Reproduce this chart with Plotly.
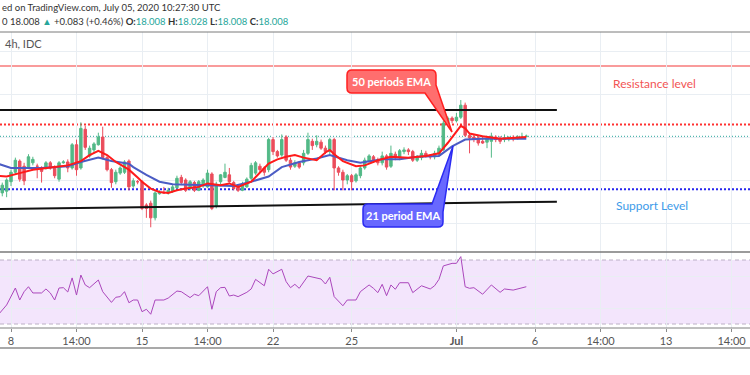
import plotly.graph_objects as go

W, H = 750, 375

# ---------------- data ----------------
idx = list(range(-2, 119))
open_ = [17.35, 17.37, 17.48, 17.59, 17.72, 17.66, 17.65, 17.70, 17.66, 17.64,
         17.64, 17.70, 17.65, 17.51, 17.70, 17.71, 17.64, 17.91, 17.64, 18.09,
         17.78, 17.85, 17.91, 18.00, 17.76, 17.62, 17.48, 17.58, 17.59, 17.72,
         17.43, 17.48, 17.48, 17.21, 17.23, 17.06, 17.34, 17.35, 17.35, 17.37,
         17.41, 17.53, 17.50, 17.40, 17.47, 17.38, 17.43, 17.42, 17.57, 17.20,
         17.48, 17.53, 17.56, 17.47, 17.43, 17.38, 17.42, 17.52, 17.58, 17.66,
         17.64, 17.62, 17.97, 17.83, 17.79, 18.00, 17.73, 17.66, 17.70, 17.70,
         17.81, 17.95, 17.91, 17.94, 17.87, 17.83, 17.97, 17.64, 17.59, 17.50,
         17.55, 17.49, 17.55, 17.64, 17.72, 17.77, 17.73, 17.70, 17.78, 17.66,
         17.80, 17.76, 17.83, 17.85, 17.83, 17.73, 17.76, 17.81, 17.78, 17.77,
         17.80, 17.85, 18.16, 18.22, 18.19, 18.23, 18.37, 18.02, 18.00, 17.99,
         17.95, 17.94, 17.95, 18.00, 17.98, 17.97, 17.98, 17.99, 17.98, 17.99,
         18.008]
high = [17.47, 17.52, 17.62, 17.76, 17.74, 17.70, 17.80, 17.77, 17.69, 17.66,
        17.72, 17.72, 17.67, 17.72, 17.73, 17.74, 17.93, 17.97, 18.17, 18.13,
        17.90, 17.94, 18.05, 18.12, 17.78, 17.64, 17.62, 17.66, 17.73, 17.74,
        17.52, 17.50, 17.50, 17.23, 17.26, 17.37, 17.38, 17.42, 17.41, 17.44,
        17.55, 17.56, 17.52, 17.50, 17.49, 17.50, 17.52, 17.62, 17.59, 17.48,
        17.57, 17.69, 17.64, 17.49, 17.45, 17.48, 17.53, 17.70, 17.72, 17.69,
        17.66, 17.99, 18.00, 17.85, 18.03, 18.02, 17.76, 17.73, 17.72, 17.85,
        18.05, 17.98, 18.02, 17.97, 17.90, 17.99, 17.99, 17.66, 17.62, 17.57,
        17.57, 17.58, 17.66, 17.76, 17.80, 17.79, 17.76, 17.83, 17.80, 17.90,
        17.83, 17.86, 17.88, 17.87, 17.85, 17.79, 17.85, 17.84, 17.80, 17.84,
        17.90, 18.19, 18.24, 18.24, 18.28, 18.43, 18.40, 18.05, 18.03, 18.01,
        18.00, 18.00, 18.05, 18.02, 18.01, 18.03, 18.01, 18.02, 18.02, 18.05,
        18.028]
low = [17.31, 17.30, 17.43, 17.57, 17.48, 17.44, 17.63, 17.67, 17.52, 17.47,
       17.62, 17.62, 17.52, 17.48, 17.69, 17.59, 17.62, 17.55, 17.62, 17.85,
       17.76, 17.81, 17.90, 17.74, 17.60, 17.41, 17.45, 17.56, 17.57, 17.38,
       17.41, 17.45, 17.15, 17.06, 16.95, 17.03, 17.33, 17.34, 17.33, 17.35,
       17.40, 17.44, 17.36, 17.38, 17.36, 17.37, 17.41, 17.41, 17.15, 17.17,
       17.45, 17.52, 17.47, 17.38, 17.36, 17.37, 17.41, 17.50, 17.56, 17.59,
       17.55, 17.59, 17.79, 17.76, 17.77, 17.71, 17.62, 17.64, 17.63, 17.67,
       17.79, 17.85, 17.88, 17.85, 17.80, 17.80, 17.38, 17.55, 17.38, 17.45,
       17.38, 17.47, 17.52, 17.62, 17.70, 17.71, 17.67, 17.67, 17.62, 17.64,
       17.73, 17.73, 17.80, 17.79, 17.71, 17.71, 17.73, 17.76, 17.74, 17.74,
       17.78, 17.84, 18.14, 18.16, 18.17, 18.21, 18.00, 17.81, 17.94, 17.90,
       17.92, 17.87, 17.76, 17.94, 17.92, 17.94, 17.95, 17.95, 17.97, 17.98,
       18.008]
close = [17.44, 17.50, 17.59, 17.73, 17.51, 17.49, 17.77, 17.74, 17.66, 17.60,
         17.70, 17.64, 17.55, 17.70, 17.71, 17.64, 17.91, 17.62, 18.10, 17.88,
         17.87, 17.92, 18.00, 17.76, 17.62, 17.47, 17.59, 17.64, 17.71, 17.42,
         17.49, 17.48, 17.17, 17.17, 17.06, 17.35, 17.36, 17.35, 17.38, 17.42,
         17.52, 17.47, 17.38, 17.48, 17.38, 17.48, 17.50, 17.58, 17.17, 17.45,
         17.56, 17.59, 17.48, 17.40, 17.38, 17.44, 17.51, 17.67, 17.70, 17.62,
         17.59, 17.97, 17.83, 17.78, 17.97, 17.73, 17.65, 17.70, 17.65, 17.81,
         17.97, 17.90, 17.95, 17.87, 17.83, 17.97, 17.64, 17.59, 17.50, 17.55,
         17.48, 17.56, 17.64, 17.73, 17.78, 17.73, 17.70, 17.78, 17.65, 17.81,
         17.76, 17.84, 17.85, 17.83, 17.73, 17.77, 17.81, 17.78, 17.77, 17.81,
         17.87, 18.16, 18.22, 18.19, 18.23, 18.37, 18.02, 17.99, 17.97, 17.93,
         17.93, 17.98, 18.01, 17.97, 17.95, 17.99, 17.99, 17.98, 18.00, 18.00,
         18.008]

ema_red_idx = [-3, -1, 2, 5, 10, 13, 16, 18, 20, 22, 24, 27, 29, 30, 32, 34, 36,
               38, 40, 43, 45, 48, 50, 52, 55, 57, 59, 61, 63, 65, 67, 70, 72,
               73, 74, 76, 79, 81, 84, 87, 91, 95, 98, 100, 102, 103, 104, 105,
               108, 112, 118]
ema_red = [17.55, 17.54, 17.58, 17.62, 17.65, 17.67, 17.72, 17.79, 17.84, 17.79,
           17.71, 17.62, 17.53, 17.48, 17.40, 17.36, 17.35, 17.38, 17.40, 17.42,
           17.46, 17.44, 17.46, 17.42, 17.48, 17.59, 17.69, 17.74, 17.77, 17.79,
           17.76, 17.73, 17.82, 17.85, 17.80, 17.72, 17.66, 17.67, 17.73, 17.77,
           17.76, 17.78, 17.81, 17.93, 18.07, 18.13, 18.10, 18.04, 18.01, 17.98,
           18.00]
ema_blue_idx = [-3, 0, 2, 7, 13, 16, 20, 23, 27, 28, 31, 34, 37, 43, 51, 55, 59,
                62, 66, 70, 73, 77, 80, 85, 89, 93, 98, 101, 104, 108, 118]
ema_blue = [17.69, 17.64, 17.64, 17.64, 17.66, 17.71, 17.76, 17.72, 17.69, 17.65,
            17.56, 17.48, 17.45, 17.44, 17.43, 17.48, 17.54, 17.65, 17.71, 17.75,
            17.79, 17.73, 17.70, 17.74, 17.74, 17.77, 17.78, 17.89, 17.97, 17.98,
            17.98]

rsi_idx = [-3, -1, 1, 2, 3, 4, 5, 7, 8, 9, 10, 11, 12, 13, 14, 15, 16, 17, 18, 20,
           21, 23, 24, 25, 26, 27, 28, 29, 30, 31, 32, 33, 35, 36, 38, 39, 41, 42,
           43, 45, 46, 47, 48, 49, 50, 51, 52, 54, 55, 56, 58, 59, 60, 62, 63, 64,
           65, 66, 68, 71, 72, 73, 74, 76, 77, 79, 80, 82, 83, 84, 85, 86, 87, 88,
           89, 91, 92, 94, 96, 97, 98, 99, 101, 102, 103, 104, 105, 106, 108, 110,
           112, 113, 115, 117, 118]
rsi = [35.5, 41.9, 52.5, 45.0, 50.2, 53.3, 49.4, 49.4, 51.9, 49.4,
       45.0, 52.5, 52.7, 50.0, 58.8, 48.1, 60.6, 54.4, 52.7, 57.5,
       50.2, 43.5, 46.7, 47.1, 50.2, 43.3, 45.0, 45.0, 37.7, 39.2,
       36.1, 45.0, 45.0, 46.2, 50.6, 50.2, 46.5, 48.6, 47.7, 53.3,
       39.2, 50.2, 52.7, 52.9, 47.5, 48.1, 47.1, 49.8, 51.9, 57.9,
       53.9, 64.2, 61.3, 64.2, 56.5, 52.7, 54.8, 52.3, 60.0, 58.1,
       55.0, 59.2, 47.1, 41.4, 45.0, 45.0, 50.2, 54.4, 52.3, 49.6,
       54.8, 47.7, 54.4, 51.7, 55.8, 55.8, 49.6, 53.9, 51.9, 53.9,
       57.9, 66.3, 67.9, 67.9, 72.1, 53.3, 52.3, 52.7, 48.6, 54.4,
       49.8, 51.9, 51.2, 52.9, 53.3]

tick_pos = [0, 15, 30, 45, 60, 78, 102, 120, 135, 150, 165]
tick_text = ["8", "14:00", "15", "14:00", "22", "25", "<b>Jul</b>", "6",
             "14:00", "13", "14:00"]

resistance_level = 18.826
red_dotted_level = 18.145
last_price = 18.008
support_level = 17.392
channel_top = [18.314, 18.314]
channel_bottom = [17.162, 17.248]
channel_x = [-3, 125]

# ---------------- helpers ----------------
def PX(x):
    return x / W


def PY(y):
    return 1 - y / H


def pt(x, y):
    return f"{PX(x):.5f},{PY(y):.5f}"


FONT = "Lato, 'Open Sans', sans-serif"
GRID = "#e9eef3"
UP, DOWN = "#53b987", "#eb4d5c"

fig = go.Figure()

fig.add_trace(go.Candlestick(
    x=idx, open=open_, high=high, low=low, close=close,
    increasing=dict(line=dict(color=UP, width=1), fillcolor=UP),
    decreasing=dict(line=dict(color=DOWN, width=1), fillcolor=DOWN),
    whiskerwidth=0, showlegend=False, hoverinfo="skip",
    xaxis="x", yaxis="y"))

fig.add_trace(go.Scatter(x=ema_blue_idx, y=ema_blue, mode="lines",
                         line=dict(color="#4b5cc4", width=2),
                         showlegend=False, xaxis="x", yaxis="y"))
fig.add_trace(go.Scatter(x=ema_red_idx, y=ema_red, mode="lines",
                         line=dict(color="#ff1a1a", width=2),
                         showlegend=False, xaxis="x", yaxis="y"))

fig.add_trace(go.Scatter(x=rsi_idx, y=rsi, mode="lines",
                         line=dict(color="#ab47bc", width=1),
                         showlegend=False, xaxis="x2", yaxis="y2"))

XR = [(0 - 11) / 4.367, (750 - 11) / 4.367]
main_dom = [PY(252), PY(32)]
rsi_dom = [PY(328), PY(252)]
main_range = [18.0 - (252 - 137) / 86, 18.0 + (137 - 32) / 86]
rsi_range = [70 - (328 - 260) / 1.6, 70 + (260 - 252) / 1.6]

fig.update_layout(
    width=W, height=H,
    margin=dict(l=0, r=0, t=0, b=0),
    paper_bgcolor="white", plot_bgcolor="white",
    showlegend=False, boxgap=0.2,
    font=dict(family=FONT, size=11, color="#444"),
    xaxis=dict(domain=[0, 1], range=XR, anchor="y", tickvals=tick_pos,
               showticklabels=False, showgrid=True, gridcolor=GRID,
               zeroline=False, showline=False, ticks="",
               rangeslider=dict(visible=False), fixedrange=True),
    yaxis=dict(domain=main_dom, range=main_range, anchor="x",
               tickvals=[17.0, 17.5, 18.0, 18.5, 19.0], showticklabels=False,
               showgrid=True, gridcolor=GRID, zeroline=False, showline=False,
               ticks=""),
    xaxis2=dict(domain=[0, 1], range=XR, anchor="y2", tickvals=tick_pos,
                ticktext=tick_text, showticklabels=True, showgrid=True,
                gridcolor=GRID, zeroline=False, showline=False,
                ticks="outside", ticklen=3, tickcolor="#8a8a8a",
                tickfont=dict(family=FONT, size=11, color="#555")),
    yaxis2=dict(domain=rsi_dom, range=rsi_range, anchor="x2",
                tickvals=[40, 60], showticklabels=False, showgrid=True,
                gridcolor=GRID, zeroline=False, showline=False, ticks=""),
)

shapes = []
# RSI band
shapes.append(dict(type="rect", xref="paper", yref="y2", x0=0, x1=1, y0=30, y1=70,
                   fillcolor="#f3e5fc", line=dict(width=0), layer="below"))
for lv in (70, 30):
    shapes.append(dict(type="line", xref="paper", yref="y2", x0=0, x1=1, y0=lv, y1=lv,
                       line=dict(color="#bcb0c6", width=1, dash="4px,3px"),
                       layer="below"))
# level lines
shapes.append(dict(type="line", xref="paper", yref="y", x0=0, x1=1,
                   y0=resistance_level, y1=resistance_level,
                   line=dict(color="#f77a7a", width=1.5), layer="below"))
shapes.append(dict(type="line", xref="paper", yref="y", x0=0, x1=1,
                   y0=red_dotted_level, y1=red_dotted_level,
                   line=dict(color="#ff3030", width=2, dash="2px,2px"), layer="below"))
shapes.append(dict(type="line", xref="paper", yref="y", x0=0, x1=1,
                   y0=last_price, y1=last_price,
                   line=dict(color="#26a69a", width=1, dash="1px,2px"), layer="below"))
shapes.append(dict(type="line", xref="paper", yref="y", x0=0, x1=1,
                   y0=support_level, y1=support_level,
                   line=dict(color="#2626f0", width=2, dash="2px,2px"), layer="below"))
# channel lines
shapes.append(dict(type="line", xref="x", yref="y", x0=channel_x[0], x1=channel_x[1],
                   y0=channel_top[0], y1=channel_top[1],
                   line=dict(color="#111111", width=2)))
shapes.append(dict(type="line", xref="x", yref="y", x0=channel_x[0], x1=channel_x[1],
                   y0=channel_bottom[0], y1=channel_bottom[1],
                   line=dict(color="#111111", width=2)))
# frame lines
for yy, col, lw in ((32, "#7a7a7a", 1), (252, "#7a7a7a", 1.5),
                    (328, "#808080", 1), (348, "#8c8c8c", 1.5)):
    shapes.append(dict(type="line", xref="paper", yref="paper", x0=0, x1=1,
                       y0=PY(yy), y1=PY(yy), line=dict(color=col, width=lw)))

# callouts
r = 5
x0, x1, y0, y1 = 347, 436, 70, 93
red_path = ("M " + pt(x0 + r, y0) + " L " + pt(x1 - r, y0) +
            " Q " + pt(x1, y0) + " " + pt(x1, y0 + r) +
            " L " + pt(x1, 85) + " L " + pt(452, 132) + " L " + pt(425, y1) +
            " L " + pt(x0 + r, y1) + " Q " + pt(x0, y1) + " " + pt(x0, y1 - r) +
            " L " + pt(x0, y0 + r) + " Q " + pt(x0, y0) + " " + pt(x0 + r, y0) + " Z")
shapes.append(dict(type="path", xref="paper", yref="paper", path=red_path,
                   fillcolor="#ff6e6e", line=dict(color="#ff2020", width=1.5)))
bx0, bx1, by0, by1 = 363, 443, 204, 227
blue_path = ("M " + pt(bx0 + r, by0) + " L " + pt(432, by0) + " L " + pt(453, 146) +
             " L " + pt(bx1, 212) + " L " + pt(bx1, by1 - r) +
             " Q " + pt(bx1, by1) + " " + pt(bx1 - r, by1) +
             " L " + pt(bx0 + r, by1) + " Q " + pt(bx0, by1) + " " + pt(bx0, by1 - r) +
             " L " + pt(bx0, by0 + r) + " Q " + pt(bx0, by0) + " " + pt(bx0 + r, by0) + " Z")
shapes.append(dict(type="path", xref="paper", yref="paper", path=blue_path,
                   fillcolor="#6868ff", line=dict(color="#2a2af2", width=1.5)))

fig.update_layout(shapes=shapes)

TEAL = "#26a69a"
ann = []


def text(x, y, s, size=11, color="#444", anchor="left", bold=False, family=FONT):
    ann.append(dict(xref="paper", yref="paper", x=PX(x), y=PY(y),
                    xanchor=anchor, yanchor="middle", showarrow=False,
                    text=(f"<b>{s}</b>" if bold else s),
                    font=dict(family=family, size=size, color=color)))


text(0, 8, "ed on TradingView.com, July 05, 2020 10:27:30 UTC", 9.5, "#333333")
line2 = (f"0 18.008 <span style=\"color:{TEAL}\">▲</span> +0.083 (+0.46%) "
         f"<b>O:</b><span style=\"color:{TEAL}\">18.008</span> "
         f"<b>H:</b><span style=\"color:{TEAL}\">18.028</span> "
         f"<b>L:</b><span style=\"color:{TEAL}\">18.008</span> "
         f"<b>C:</b><span style=\"color:{TEAL}\">18.008</span>")
text(0, 22, line2, 9.5, "#333333")
text(3, 44, "4h, IDC", 11, "#555")
text(654, 83, "Resistance level", 12, "#f25555", "center")
text(652, 205, "Support Level", 12, "#3d9be9", "center")
text(391, 81.5, "50 periods EMA", 11, "white", "center", True)
text(403, 215.5, "21 period EMA", 11, "white", "center", True)

fig.update_layout(annotations=ann)

fig.write_html("out.html",
               config={"displayModeBar": False},
               post_script="document.body.style.margin='0';"
                           "document.body.style.overflow='hidden';")
